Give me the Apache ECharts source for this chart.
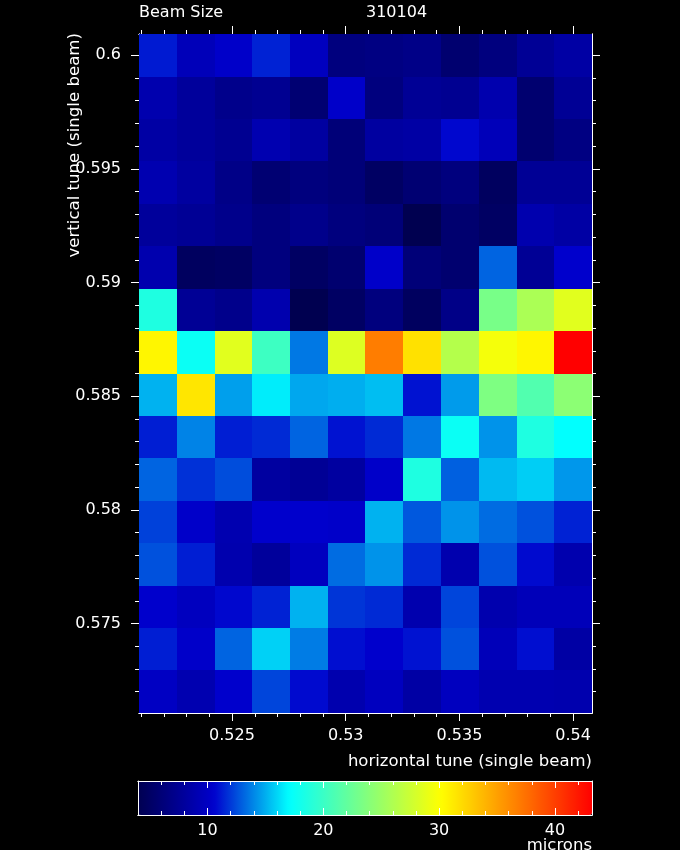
<!DOCTYPE html>
<html>
<head>
<meta charset="utf-8">
<script src="https://cdn.jsdelivr.net/npm/echarts@6/dist/echarts.min.js"></script>
<style>
html,body{margin:0;padding:0;background:#000;}
#chart{width:680px;height:850px;}
</style>
</head>
<body>
<div id="chart"></div>
<script>
// ---- data ----
var chartTitle = 'Beam Size';
var runId = '310104';
var xTitle = 'horizontal tune (single beam)';
var yTitle = 'vertical tune (single beam)';
var unitLabel = 'microns';

// horizontal tune (column centres)
var xValues = [0.52174, 0.5234, 0.52506, 0.52672, 0.52838, 0.53004, 0.5317, 0.53336, 0.53502, 0.53668, 0.53834, 0.54];
// vertical tune (row centres, top to bottom)
var yValues = [0.6, 0.59813, 0.59627, 0.5944, 0.59253, 0.59067, 0.5888, 0.58693, 0.58507, 0.5832, 0.58133, 0.57947, 0.5776, 0.57573, 0.57387, 0.572];
// beam size in microns, one row per yValue (top to bottom), one column per xValue
var beamSize = [
  [11.2, 9.5, 10.3, 11.4, 9.8, 6.4, 6.6, 6.9, 5.6, 6.4, 7.6, 8.4],
  [8.9, 7.9, 7.1, 7.4, 5.8, 10.3, 6.4, 7.6, 7.4, 8.9, 5.6, 7.6],
  [8.4, 7.9, 7.4, 9.0, 8.2, 6.1, 8.2, 8.4, 10.7, 9.5, 5.6, 6.6],
  [9.0, 8.2, 6.9, 5.8, 6.4, 6.1, 5.0, 5.8, 6.4, 4.8, 7.6, 7.6],
  [7.9, 7.6, 7.1, 6.4, 7.1, 6.4, 6.1, 4.0, 5.6, 5.0, 8.9, 8.4],
  [8.9, 4.8, 5.0, 6.4, 5.0, 5.6, 10.3, 6.1, 5.6, 13.1, 7.6, 10.5],
  [18.6, 7.6, 7.1, 8.9, 4.0, 5.0, 6.4, 4.8, 6.9, 23.2, 25.8, 28.6],
  [30.6, 17.6, 28.6, 20.2, 13.6, 28.4, 36.8, 31.7, 26.3, 29.6, 30.6, 43.2],
  [15.1, 31.4, 14.6, 16.6, 14.8, 15.0, 15.4, 11.0, 14.5, 23.5, 21.2, 24.2],
  [11.3, 13.9, 11.3, 11.6, 13.1, 11.0, 11.6, 13.6, 17.6, 14.3, 18.6, 17.1],
  [13.1, 11.8, 12.5, 8.2, 7.6, 8.2, 10.3, 18.6, 13.0, 15.3, 15.8, 14.4],
  [12.2, 10.3, 9.0, 10.5, 10.5, 10.3, 15.1, 12.8, 14.3, 13.3, 12.6, 11.4],
  [12.6, 11.3, 8.9, 7.9, 9.8, 13.3, 14.3, 11.6, 8.9, 12.6, 10.8, 8.9],
  [10.5, 9.8, 10.7, 11.4, 15.1, 11.9, 11.6, 8.9, 12.3, 8.9, 9.5, 9.5],
  [11.3, 10.3, 13.1, 15.9, 13.7, 10.9, 10.5, 11.0, 12.6, 9.5, 10.9, 8.4],
  [10.0, 9.0, 10.5, 12.3, 10.8, 8.9, 9.8, 8.4, 9.8, 9.0, 9.0, 8.9]
];

// tick values
var xMajorTicks = [0.525, 0.53, 0.535, 0.54];
var xMinorTicks = [0.521, 0.522, 0.523, 0.524, 0.525, 0.526, 0.527, 0.528, 0.529, 0.53,
                   0.531, 0.532, 0.533, 0.534, 0.535, 0.536, 0.537, 0.538, 0.539, 0.54];
var yMajorTicks = [0.575, 0.58, 0.585, 0.59, 0.595, 0.6];
var yMinorTicks = [0.571, 0.572, 0.573, 0.574, 0.575, 0.576, 0.577, 0.578, 0.579, 0.58,
                   0.581, 0.582, 0.583, 0.584, 0.585, 0.586, 0.587, 0.588, 0.589, 0.59,
                   0.591, 0.592, 0.593, 0.594, 0.595, 0.596, 0.597, 0.598, 0.599, 0.6];
var cbMajorTicks = [10, 20, 30, 40];
var cbMinorTicks = [6, 8, 12, 14, 16, 18, 22, 24, 26, 28, 32, 34, 36, 38, 42];
var colorMin = 4.0, colorMax = 43.2;
var colorStops = ['#000050', '#0000cd', '#00ffff', '#80ff80', '#ffff00', '#ff8000', '#ff0000'];

// ---- build ----
// cell edges: midpoints between neighbouring centres, half a step beyond the ends
function edgesOf(vals) {
  var e = [];
  var n = vals.length;
  e.push(vals[0] - (vals[1] - vals[0]) / 2);
  for (var i = 0; i < n - 1; i++) e.push((vals[i] + vals[i + 1]) / 2);
  e.push(vals[n - 1] + (vals[n - 1] - vals[n - 2]) / 2);
  return e;
}
var xEdges = edgesOf(xValues);
var yEdges = edgesOf(yValues);
var xMin = Math.min(xEdges[0], xEdges[xEdges.length - 1]);
var xMax = Math.max(xEdges[0], xEdges[xEdges.length - 1]);
var yMin = Math.min(yEdges[0], yEdges[yEdges.length - 1]);
var yMax = Math.max(yEdges[0], yEdges[yEdges.length - 1]);

var cells = [];
for (var r = 0; r < yValues.length; r++) {
  for (var c = 0; c < xValues.length; c++) {
    cells.push([xValues[c], yValues[r], beamSize[r][c], r, c]);
  }
}

var FONT = 'DejaVu Sans';
var WHITE = '#ffffff';
function fmt(v) { return String(parseFloat(v.toFixed(3))); }

function mkX(opt) {
  return Object.assign({
    type: 'value', gridIndex: 0, min: xMin, max: xMax,
    axisLine: { show: true, onZero: false, lineStyle: { color: WHITE, width: 1 } },
    splitLine: { show: false },
    axisLabel: { show: false },
    axisTick: { show: true }
  }, opt);
}
function mkY(opt) {
  return Object.assign({
    type: 'value', gridIndex: 0, min: yMin, max: yMax,
    axisLine: { show: true, onZero: false, lineStyle: { color: WHITE, width: 1 } },
    splitLine: { show: false },
    axisLabel: { show: false },
    axisTick: { show: true }
  }, opt);
}
function tick(vals, len, inside) {
  return { show: true, customValues: vals, length: len, inside: !!inside, lineStyle: { color: WHITE, width: 1 } };
}

var chart = echarts.init(document.getElementById('chart'), null, { renderer: 'canvas' });

var option = {
  backgroundColor: '#000000',
  animation: false,
  title: [
    { text: chartTitle, left: 139, top: 5, padding: 0,
      textStyle: { color: WHITE, fontFamily: FONT, fontSize: 16, fontWeight: 'normal' } },
    { text: runId, left: 366, top: 5, padding: 0,
      textStyle: { color: WHITE, fontFamily: FONT, fontSize: 16, fontWeight: 'normal' } }
  ],
  grid: [
    { left: 139, top: 34, width: 453, height: 679 },
    { left: 138, top: 781, width: 454, height: 34 }
  ],
  xAxis: [
    mkX({ position: 'bottom', axisTick: tick(xMajorTicks, 8),
          axisLabel: { show: true, customValues: xMajorTicks, formatter: fmt, color: WHITE,
                       fontFamily: FONT, fontSize: 16, margin: 15 } }),
    mkX({ position: 'bottom', axisTick: tick(xMinorTicks, 4) }),
    mkX({ position: 'top', axisTick: tick(xMajorTicks, 8) }),
    mkX({ position: 'top', axisTick: tick(xMinorTicks, 4) }),
    // colour bar axes
    mkX({ gridIndex: 1, min: colorMin, max: colorMax, position: 'bottom', z: 10,
          axisTick: tick(cbMajorTicks, 7, true),
          axisLabel: { show: true, customValues: cbMajorTicks, color: WHITE,
                       fontFamily: FONT, fontSize: 16, margin: 8 } }),
    mkX({ gridIndex: 1, min: colorMin, max: colorMax, position: 'bottom', z: 10,
          axisTick: tick(cbMinorTicks, 4, true) }),
    mkX({ gridIndex: 1, min: colorMin, max: colorMax, position: 'top', z: 10,
          axisTick: tick(cbMajorTicks, 7, true) }),
    mkX({ gridIndex: 1, min: colorMin, max: colorMax, position: 'top', z: 10,
          axisTick: tick(cbMinorTicks, 4, true) })
  ],
  yAxis: [
    mkY({ position: 'left', axisTick: tick(yMajorTicks, 8),
          axisLabel: { show: true, customValues: yMajorTicks, formatter: fmt, color: WHITE,
                       fontFamily: FONT, fontSize: 16, margin: 18 } }),
    mkY({ position: 'left', axisTick: tick(yMinorTicks, 4) }),
    mkY({ position: 'right', axisTick: tick(yMajorTicks, 8) }),
    mkY({ position: 'right', axisTick: tick(yMinorTicks, 4) }),
    mkY({ gridIndex: 1, min: 0, max: 1, position: 'left', z: 10, axisTick: { show: false } }),
    mkY({ gridIndex: 1, min: 0, max: 1, position: 'right', z: 10, axisTick: { show: false } })
  ],
  visualMap: {
    type: 'continuous',
    seriesIndex: 0,
    dimension: 2,
    min: colorMin,
    max: colorMax,
    calculable: false,
    orient: 'horizontal',
    left: 138,
    top: 781,
    padding: 0,
    itemWidth: 34,
    itemHeight: 454,
    text: null,
    showLabel: false,
    inRange: { color: colorStops }
  },
  graphic: [
    { type: 'text', x: 75, y: 33, rotation: Math.PI / 2,
      style: { text: yTitle, fill: WHITE, font: '16.6px "DejaVu Sans"', align: 'right', verticalAlign: 'middle' } },
    { type: 'text', x: 592, y: 753,
      style: { text: xTitle, fill: WHITE, font: '16.5px "DejaVu Sans"', align: 'right', verticalAlign: 'top' } },
    { type: 'text', x: 592, y: 837,
      style: { text: unitLabel, fill: WHITE, font: '16.5px "DejaVu Sans"', align: 'right', verticalAlign: 'top' } }
  ],
  series: [
    {
      type: 'custom',
      xAxisIndex: 0,
      yAxisIndex: 0,
      dimensions: ['x', 'y', 'size', 'row', 'col'],
      encode: { x: 0, y: 1 },
      data: cells,
      renderItem: function (params, api) {
        var r = api.value(3), c = api.value(4);
        var p0 = api.coord([xEdges[c], yEdges[r]]);
        var p1 = api.coord([xEdges[c + 1], yEdges[r + 1]]);
        var x0 = Math.round(Math.min(p0[0], p1[0])), x1 = Math.round(Math.max(p0[0], p1[0]));
        var y0 = Math.round(Math.min(p0[1], p1[1])), y1 = Math.round(Math.max(p0[1], p1[1]));
        return {
          type: 'rect',
          shape: { x: x0, y: y0, width: x1 - x0, height: y1 - y0 },
          style: { fill: api.visual('color') }
        };
      }
    }
  ]
};
chart.setOption(option);
</script>
</body>
</html>
